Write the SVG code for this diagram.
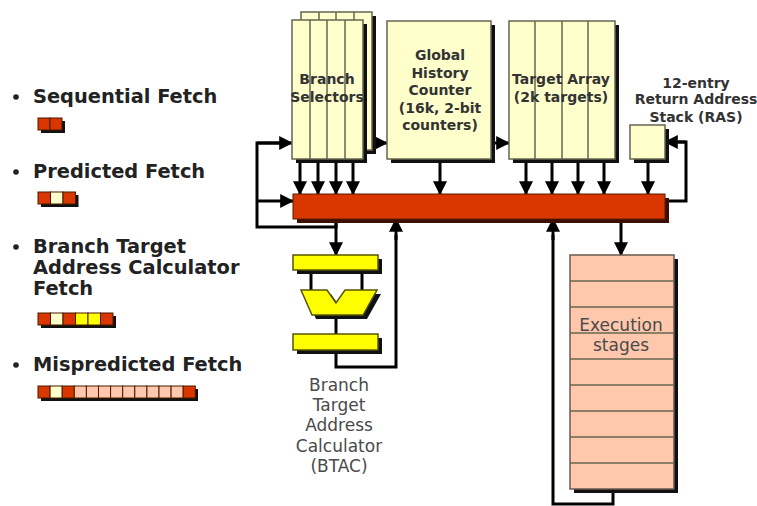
<svg xmlns="http://www.w3.org/2000/svg" width="757" height="506" viewBox="0 0 757 506">
<defs>
<style>
.sh{fill:#111}
.cream{fill:#ffffcc;stroke:#666650;stroke-width:1.5}
.div{stroke:#666650;stroke-width:1.5}
.bar{fill:#d93600;stroke:#5a1a00;stroke-width:1}
.yel{fill:#ffff00;stroke:#555500;stroke-width:1.5}
.pink{fill:#ffc8ad;stroke:#6a5a50;stroke-width:1.5}
.ln{fill:none;stroke:#000;stroke-width:3}
.arr{marker-end:url(#ah)}
.lg{font-family:"DejaVu Sans",Verdana,sans-serif;font-weight:bold;font-size:19.4px;fill:#222}
.bl{font-family:"DejaVu Sans",Verdana,sans-serif;font-weight:bold;font-size:14px;fill:#333;text-anchor:middle}
.nl{font-family:"DejaVu Sans",Verdana,sans-serif;font-size:17px;fill:#4a4a4a;text-anchor:middle}
.c-r{fill:#d93600;stroke:#4a1a00;stroke-width:1}
.c-c{fill:#ffffcc;stroke:#4a1a00;stroke-width:1}
.c-y{fill:#ffff00;stroke:#4a1a00;stroke-width:1}
.c-p{fill:#ffc8ad;stroke:#4a1a00;stroke-width:1}
</style>
<marker id="ah" viewBox="0 0 12 12" refX="11" refY="6" markerWidth="14" markerHeight="14" markerUnits="userSpaceOnUse" orient="auto">
<path d="M0,0 L12,6 L0,12 z" fill="#000"/>
</marker>
</defs>
<rect width="757" height="506" fill="#fff"/>

<g id="legend">
<g id="leg-seq">
<circle cx="16" cy="97" r="2.8" fill="#222"/>
<text class="lg" x="33" y="103">Sequential Fetch</text>
<rect class="sh" x="41" y="121" width="24" height="12"/>
<rect class="c-r" x="38" y="118" width="12" height="12"/>
<rect class="c-r" x="50" y="118" width="12" height="12"/>
</g>
<g id="leg-pred">
<circle cx="16" cy="172" r="2.8" fill="#222"/>
<text class="lg" x="33" y="178">Predicted Fetch</text>
<rect class="sh" x="41" y="195" width="37.5" height="12"/>
<rect class="c-r" x="38" y="192" width="12.5" height="12"/>
<rect class="c-c" x="50.5" y="192" width="12.5" height="12"/>
<rect class="c-r" x="63" y="192" width="12.5" height="12"/>
</g>
<g id="leg-btac">
<circle cx="16" cy="247" r="2.8" fill="#222"/>
<text class="lg" x="33" y="253">Branch Target</text>
<text class="lg" x="33" y="274">Address Calculator</text>
<text class="lg" x="33" y="295">Fetch</text>
<rect class="sh" x="41" y="316" width="75" height="12"/>
<rect class="c-r" x="38" y="313" width="12.5" height="12"/>
<rect class="c-c" x="50.5" y="313" width="12.5" height="12"/>
<rect class="c-r" x="63" y="313" width="12.5" height="12"/>
<rect class="c-y" x="75.5" y="313" width="12.5" height="12"/>
<rect class="c-y" x="88" y="313" width="12.5" height="12"/>
<rect class="c-r" x="100.5" y="313" width="12.5" height="12"/>
</g>
<g id="leg-mis">
<circle cx="16" cy="365" r="2.8" fill="#222"/>
<text class="lg" x="33" y="371">Mispredicted Fetch</text>
<rect class="sh" x="41" y="389" width="157" height="12"/>
<rect class="c-r" x="38" y="386" width="12.1" height="12"/>
<rect class="c-c" x="50.1" y="386" width="12.1" height="12"/>
<rect class="c-r" x="62.2" y="386" width="12.1" height="12"/>
<rect class="c-p" x="74.3" y="386" width="12.1" height="12"/>
<rect class="c-p" x="86.4" y="386" width="12.1" height="12"/>
<rect class="c-p" x="98.5" y="386" width="12.1" height="12"/>
<rect class="c-p" x="110.6" y="386" width="12.1" height="12"/>
<rect class="c-p" x="122.7" y="386" width="12.1" height="12"/>
<rect class="c-p" x="134.8" y="386" width="12.1" height="12"/>
<rect class="c-p" x="146.9" y="386" width="12.1" height="12"/>
<rect class="c-p" x="159" y="386" width="12.1" height="12"/>
<rect class="c-p" x="171.1" y="386" width="12.1" height="12"/>
<rect class="c-r" x="183.2" y="386" width="12.1" height="12"/>
</g>
</g>

<g id="connectors">
<polyline class="ln" points="336,219 336,227 257,227 257,143 280,143"/>
<line class="ln arr" x1="257" y1="143" x2="292" y2="143"/>
<line class="ln arr" x1="257" y1="201" x2="293" y2="201"/>
<line class="ln arr" x1="336" y1="219" x2="336" y2="255"/>
<line class="ln arr" x1="300" y1="159" x2="300" y2="194"/>
<line class="ln arr" x1="318" y1="159" x2="318" y2="194"/>
<line class="ln arr" x1="336" y1="159" x2="336" y2="194"/>
<line class="ln arr" x1="353" y1="159" x2="353" y2="194"/>
<line class="ln arr" x1="440" y1="159" x2="440" y2="194"/>
<line class="ln arr" x1="526" y1="159" x2="526" y2="194"/>
<line class="ln arr" x1="552" y1="159" x2="552" y2="194"/>
<line class="ln arr" x1="578" y1="159" x2="578" y2="194"/>
<line class="ln arr" x1="604" y1="159" x2="604" y2="194"/>
<line class="ln arr" x1="648" y1="159" x2="648" y2="194"/>
<line class="ln arr" x1="368" y1="143" x2="387" y2="143"/>
<line class="ln arr" x1="491" y1="143" x2="509" y2="143"/>
<polyline class="ln" points="665,201 686,201 686,142 678,142"/>
<line class="ln arr" x1="686" y1="142" x2="665" y2="142"/>
<polyline class="ln" points="336,350 336,367 396,367 396,235"/>
<line class="ln arr" x1="396" y1="240" x2="396" y2="219"/>
<line class="ln arr" x1="621" y1="219" x2="621" y2="255"/>
<polyline class="ln" points="613,489 613,504 553,504 553,235"/>
<line class="ln arr" x1="553" y1="240" x2="553" y2="219"/>
<line class="ln" x1="311" y1="270" x2="311" y2="291"/>
<line class="ln" x1="362" y1="270" x2="362" y2="291"/>
<line class="ln" x1="336" y1="314" x2="336" y2="335"/>
</g>

<g id="branch-selectors">
<rect class="sh" x="305" y="16" width="71" height="138"/>
<rect class="cream" x="301" y="12" width="71" height="138"/>
<line class="div" x1="319" y1="12" x2="319" y2="20"/>
<line class="div" x1="336" y1="12" x2="336" y2="20"/>
<line class="div" x1="354" y1="12" x2="354" y2="20"/>
<rect class="sh" x="296" y="24" width="71" height="139"/>
<rect class="cream" x="292" y="20" width="71" height="139"/>
<line class="div" x1="310" y1="20" x2="310" y2="159"/>
<line class="div" x1="327" y1="20" x2="327" y2="159"/>
<line class="div" x1="345" y1="20" x2="345" y2="159"/>
<text class="bl" x="327" y="84" fill="#222">Branch</text>
<text class="bl" x="327" y="102" fill="#222">Selectors</text>
</g>

<g id="ghc">
<rect class="sh" x="391" y="25" width="104" height="138"/>
<rect class="cream" x="387" y="21" width="104" height="138"/>
<text class="bl" x="440" y="60">Global</text>
<text class="bl" x="440" y="78">History</text>
<text class="bl" x="440" y="95">Counter</text>
<text class="bl" x="440" y="113">(16k, 2-bit</text>
<text class="bl" x="440" y="130">counters)</text>
</g>

<g id="target-array">
<rect class="sh" x="513" y="25" width="106" height="138"/>
<rect class="cream" x="509" y="21" width="106" height="138"/>
<line class="div" x1="535" y1="21" x2="535" y2="159"/>
<line class="div" x1="562" y1="21" x2="562" y2="159"/>
<line class="div" x1="588" y1="21" x2="588" y2="159"/>
<text class="bl" x="561" y="84">Target Array</text>
<text class="bl" x="561" y="102">(2k targets)</text>
</g>

<g id="ras">
<rect class="sh" x="634" y="129" width="35" height="34"/>
<rect class="cream" x="630" y="125" width="35" height="34"/>
<text class="bl" x="696" y="88">12-entry</text>
<text class="bl" x="696" y="104">Return Address</text>
<text class="bl" x="696" y="122">Stack (RAS)</text>
</g>

<g id="fetch-bar">
<rect x="297" y="198" width="372" height="25" fill="#3a1000"/>
<rect class="bar" x="293" y="194" width="372" height="25"/>
</g>

<g id="btac">
<rect class="sh" x="297" y="259" width="85" height="15"/>
<rect class="yel" x="293" y="255" width="85" height="15"/>
<polygon class="sh" points="305,294 331,294 340,307 349,294 381,294 367,319 316,319"/>
<polygon class="yel" points="301,290 327,290 336,303 345,290 377,290 363,315 312,315"/>
<rect class="sh" x="297" y="338" width="85" height="16"/>
<rect class="yel" x="293" y="334" width="85" height="16"/>
<text class="nl" x="339" y="391">Branch</text>
<text class="nl" x="339" y="411">Target</text>
<text class="nl" x="339" y="431">Address</text>
<text class="nl" x="339" y="452">Calculator</text>
<text class="nl" x="339" y="472">(BTAC)</text>
</g>

<g id="execution">
<rect class="sh" x="574" y="259" width="104" height="234"/>
<rect class="pink" x="570" y="255" width="104" height="234"/>
<line class="div" x1="570" y1="281" x2="674" y2="281"/>
<line class="div" x1="570" y1="307" x2="674" y2="307"/>
<line class="div" x1="570" y1="333" x2="674" y2="333"/>
<line class="div" x1="570" y1="359" x2="674" y2="359"/>
<line class="div" x1="570" y1="385" x2="674" y2="385"/>
<line class="div" x1="570" y1="411" x2="674" y2="411"/>
<line class="div" x1="570" y1="437" x2="674" y2="437"/>
<line class="div" x1="570" y1="463" x2="674" y2="463"/>
<text class="nl" x="621" y="331">Execution</text>
<text class="nl" x="621" y="351">stages</text>
</g>
</svg>
